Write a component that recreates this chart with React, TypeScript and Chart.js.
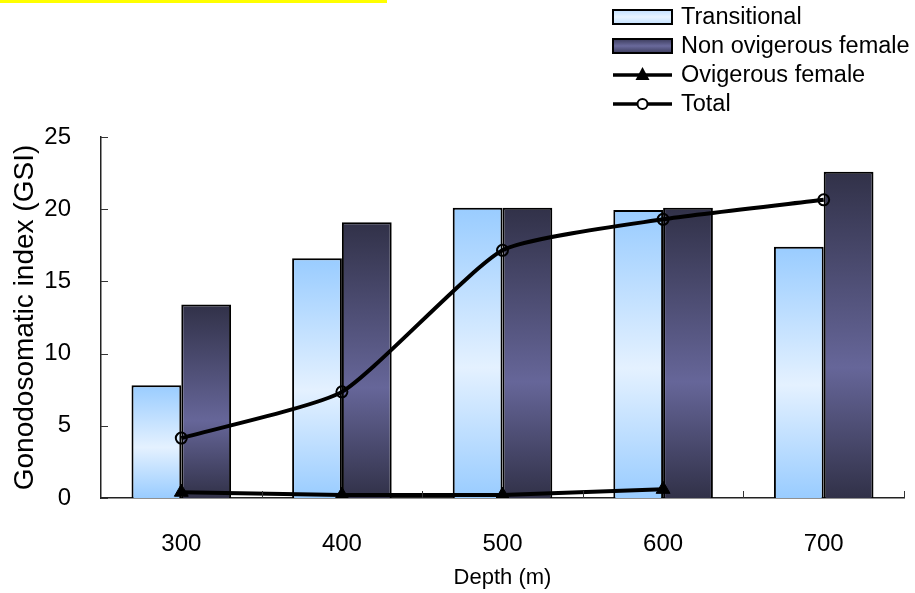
import React, { useEffect, useRef } from 'react';
import { Chart, registerables } from 'chart.js';

Chart.register(...registerables);

const depths = ['300', '400', '500', '600', '700'];
const transitional = [7.8, 16.6, 20.1, 19.95, 17.4];
const nonOvigerous = [13.4, 19.1, 20.1, 20.1, 22.6];
const ovigerous = [0.4, 0.2, 0.2, 0.6, null];
const total = [4.15, 7.35, 17.15, 19.3, 20.65];
const yTicks = [0, 5, 10, 15, 20, 25];

const lightStops: [number, string][] = [[0, '#99ccff'], [0.55, '#e4f1ff'], [1, '#99ccff']];
const darkStops: [number, string][] = [[0, '#313148'], [0.6, '#666699'], [1, '#313148']];

function grad(c: CanvasRenderingContext2D, top: number, bottom: number, stops: [number, string][]) {
  const g = c.createLinearGradient(0, top, 0, bottom);
  stops.forEach(([o, col]) => g.addColorStop(o, col));
  return g;
}

function barFill(stops: [number, string][]) {
  return (ctx: any) => {
    const chart = ctx.chart;
    const y = chart.scales && chart.scales.y;
    if (!y || ctx.raw == null) return stops[1][1];
    const top = y.getPixelForValue(ctx.raw);
    const bottom = y.getPixelForValue(0);
    if (!isFinite(top) || !isFinite(bottom) || top === bottom) return stops[1][1];
    return grad(chart.ctx, top, bottom, stops);
  };
}

const FONT = '"Liberation Sans", Arial, sans-serif';

const decorPlugin = {
  id: 'decor',
  afterDraw(chart: any) {
    const c: CanvasRenderingContext2D = chart.ctx;
    const { left, right, bottom } = chart.chartArea;
    const ys = chart.scales.y;
    c.save();
    c.strokeStyle = '#333';
    c.lineWidth = 1;
    yTicks.forEach((v) => {
      const py = Math.round(ys.getPixelForValue(v)) + 0.5;
      c.beginPath();
      c.moveTo(left, py);
      c.lineTo(left + 7, py);
      c.stroke();
    });
    const n = depths.length;
    for (let i = 1; i <= n; i++) {
      const px = Math.round(left + (i * (right - left)) / n) + 0.5;
      c.beginPath();
      c.moveTo(px, bottom);
      c.lineTo(px, bottom - 7);
      c.stroke();
    }
    // legend
    const lx0 = 613, lx1 = 672, tx = 681;
    const rows = [17, 46, 75, 104];
    c.font = `23.5px ${FONT}`;
    c.textBaseline = 'middle';
    chart.data.datasets.forEach((ds: any, i: number) => {
      const yy = rows[i];
      if (ds.type === 'line') {
        c.strokeStyle = '#000';
        c.lineWidth = 3.5;
        c.beginPath();
        c.moveTo(lx0, yy);
        c.lineTo(lx1, yy);
        c.stroke();
        const mx = (lx0 + lx1) / 2;
        if (ds.pointStyle === 'triangle') {
          c.fillStyle = '#000';
          c.beginPath();
          c.moveTo(mx, yy - 8);
          c.lineTo(mx + 7, yy + 5);
          c.lineTo(mx - 7, yy + 5);
          c.closePath();
          c.fill();
        } else {
          c.fillStyle = '#fff';
          c.lineWidth = 2;
          c.beginPath();
          c.arc(mx, yy, 5, 0, Math.PI * 2);
          c.fill();
          c.stroke();
        }
      } else {
        c.fillStyle = i === 0
          ? grad(c, yy - 7, yy + 7, [[0, '#c2e0ff'], [0.5, '#e8f4ff'], [1, '#c2e0ff']])
          : grad(c, yy - 7, yy + 7, [[0, '#3c3c5c'], [0.5, '#6a6a9c'], [1, '#3c3c5c']]);
        c.fillRect(lx0, yy - 7, lx1 - lx0, 14);
        c.strokeStyle = '#000';
        c.lineWidth = 2;
        c.strokeRect(lx0, yy - 7, lx1 - lx0, 14);
      }
      c.fillStyle = '#000';
      c.fillText(ds.label, tx, yy + 1);
    });
    c.restore();
  },
};

export default function App() {
  const ref = useRef<HTMLCanvasElement | null>(null);
  useEffect(() => {
    document.body.style.margin = '0';
    if (!ref.current) return;
    const chart = new Chart(ref.current, {
      type: 'bar',
      data: {
        labels: depths,
        datasets: [
          {
            type: 'bar',
            label: 'Transitional',
            data: transitional,
            backgroundColor: barFill(lightStops),
            borderColor: '#000',
            borderWidth: 2,
            borderSkipped: 'start',
            order: 2,
          },
          {
            type: 'bar',
            label: 'Non ovigerous female',
            data: nonOvigerous,
            backgroundColor: barFill(darkStops),
            borderColor: '#000',
            borderWidth: 2,
            borderSkipped: 'start',
            order: 2,
          },
          {
            type: 'line',
            label: 'Ovigerous female',
            data: ovigerous,
            borderColor: '#000',
            backgroundColor: '#000',
            borderWidth: 4,
            pointStyle: 'triangle',
            pointRadius: 8,
            pointBackgroundColor: '#000',
            pointBorderColor: '#000',
            pointBorderWidth: 1,
            tension: 0,
            order: 1,
          },
          {
            type: 'line',
            label: 'Total',
            data: total,
            borderColor: '#000',
            backgroundColor: 'rgba(0,0,0,0)',
            borderWidth: 4,
            pointStyle: 'circle',
            pointRadius: 5.5,
            pointBackgroundColor: 'rgba(0,0,0,0)',
            pointBorderColor: '#000',
            pointBorderWidth: 2,
            tension: 0.17,
            order: 0,
          },
        ] as any,
      },
      options: {
        animation: false,
        responsive: false,
        devicePixelRatio: 1,
        layout: { padding: { top: 137, right: 11, left: 0, bottom: 0 } },
        plugins: { legend: { display: false }, tooltip: { enabled: false } },
        datasets: { bar: { categoryPercentage: 0.62, barPercentage: 1 } },
        scales: {
          x: {
            offset: true,
            grid: { display: false },
            border: { display: true, color: '#222', width: 1.5 },
            ticks: { color: '#000', font: { family: FONT, size: 24 }, padding: 24 },
            title: {
              display: true,
              text: 'Depth (m)',
              color: '#000',
              font: { family: FONT, size: 22 },
              padding: { top: 0, bottom: 2 },
            },
            afterFit: (s: any) => { s.height = 95; },
          },
          y: {
            min: 0,
            max: 25,
            grid: { display: false },
            border: { display: true, color: '#222', width: 1.5 },
            afterBuildTicks: (s: any) => { s.ticks = yTicks.map((v) => ({ value: v })); },
            ticks: { color: '#000', font: { family: FONT, size: 24 }, padding: 22 },
            title: {
              display: true,
              text: 'Gonodosomatic index (GSI)',
              color: '#000',
              font: { family: FONT, size: 28 },
              padding: { top: 8, bottom: 0 },
            },
            afterFit: (s: any) => { s.width = 101; },
          },
        },
      } as any,
      plugins: [decorPlugin],
    });
    return () => chart.destroy();
  }, []);
  return (
    <div style={{ position: 'relative', width: 915, height: 593, background: '#fff' }}>
      <div style={{ position: 'absolute', left: 0, top: 0, width: 387, height: 3, background: '#ffff00' }} />
      <canvas ref={ref} width={915} height={593} style={{ display: 'block', width: 915, height: 593 }} />
    </div>
  );
}
